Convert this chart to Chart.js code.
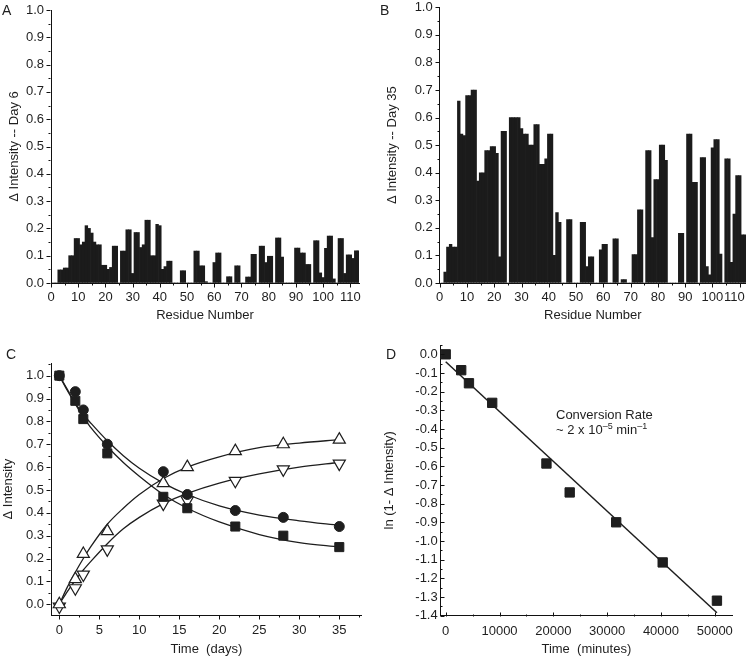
<!DOCTYPE html>
<html>
<head>
<meta charset="utf-8">
<script src="https://cdn.jsdelivr.net/npm/chart.js@4.4.1/dist/chart.umd.min.js"></script>
<style>
html, body { margin:0; padding:0; background:#fff; }
#fig { position:relative; width:746px; height:657px; overflow:hidden; background:#fff; }
#fig canvas { position:absolute; }
.t { position:absolute; font-family:"Liberation Sans", Arial, Helvetica, sans-serif; color:#1e1e1e; white-space:nowrap; }
.p { font-size:14px; line-height:14px; }
.n { font-size:13px; line-height:13px; }
.n sup { font-size:9px; vertical-align:0; position:relative; top:-5px; }
</style>
</head>
<body>
<div id="fig">
  <canvas id="chartA" width="373" height="323" style="left:0px;top:0px"></canvas>
  <canvas id="chartB" width="373" height="323" style="left:373px;top:0px"></canvas>
  <canvas id="chartC" width="373" height="327" style="left:0px;top:330px"></canvas>
  <canvas id="chartD" width="373" height="327" style="left:373px;top:330px"></canvas>
  <div class="t p" style="left:2px;top:3px">A</div>
  <div class="t p" style="left:380px;top:3px">B</div>
  <div class="t p" style="left:6px;top:347px">C</div>
  <div class="t p" style="left:386px;top:347px">D</div>
  <div class="t n" style="left:556px;top:408px">Conversion Rate</div>
  <div class="t n" style="left:556px;top:423px">~ 2 x 10<sup>–5</sup> min<sup>–1</sup></div>
</div>
<script>
// ---------------- data ----------------
const residueNumbers = Array.from({length: 113}, (_, i) => i + 1);

const deltaDay6 = [
  0, 0, 0.048, 0.048, 0.055, 0.055, 0.10, 0.10, 0.163, 0.163,
  0.14, 0.15, 0.21, 0.20, 0.183, 0.15, 0.14, 0.14, 0.065, 0.065,
  0.05, 0.057, 0.135, 0.135, 0, 0.117, 0.117, 0.195, 0.195, 0.035,
  0.185, 0.185, 0.13, 0.14, 0.23, 0.23, 0.10, 0.10, 0.215, 0.21,
  0.05, 0.06, 0.08, 0.08, 0, 0, 0, 0.045, 0.045, 0,
  0, 0, 0.117, 0.117, 0.063, 0.063, 0.005, 0, 0, 0.075,
  0.11, 0.11, 0, 0, 0.023, 0.023, 0, 0.063, 0.063, 0,
  0, 0.022, 0.022, 0.105, 0.105, 0, 0.135, 0.135, 0.075, 0.098,
  0.098, 0, 0.165, 0.165, 0.095, 0, 0, 0, 0, 0.128,
  0.128, 0.11, 0.11, 0.068, 0.068, 0, 0.155, 0.155, 0.037, 0.02,
  0.127, 0.172, 0.172, 0.015, 0, 0.163, 0.163, 0.035, 0.103, 0.103,
  0.09, 0.118, 0.118
];

const deltaDay35 = [
  0, 0.04, 0.13, 0.14, 0.13, 0.13, 0.66, 0.54, 0.535, 0.68,
  0.68, 0.70, 0.70, 0.37, 0.40, 0.40, 0.48, 0.48, 0.495, 0.495,
  0.47, 0.095, 0.55, 0.55, 0, 0.60, 0.60, 0.60, 0.60, 0.56,
  0.54, 0.54, 0.50, 0.50, 0.575, 0.575, 0.43, 0.43, 0.45, 0.54,
  0.54, 0.10, 0.255, 0.22, 0, 0, 0.23, 0.23, 0, 0,
  0, 0.22, 0.22, 0.06, 0.095, 0.095, 0, 0, 0.12, 0.14,
  0.14, 0, 0, 0.16, 0.16, 0, 0.012, 0.012, 0, 0,
  0.103, 0.103, 0.265, 0.265, 0, 0.48, 0.48, 0.165, 0.375, 0.375,
  0.50, 0.50, 0.445, 0, 0, 0, 0, 0.18, 0.18, 0,
  0.54, 0.54, 0.365, 0.365, 0, 0.455, 0.455, 0.06, 0.03, 0.49,
  0.52, 0.52, 0.105, 0, 0.45, 0.45, 0.075, 0.25, 0.39, 0.39,
  0.175, 0.175, 0
];

const residueTicks = [0, 10, 20, 30, 40, 50, 60, 70, 80, 90, 100, 110];
const intensityTicks = [0, 0.1, 0.2, 0.3, 0.4, 0.5, 0.6, 0.7, 0.8, 0.9, 1.0];

// panel C
const timeDays = [0, 2, 3, 6, 13, 16, 22, 28, 35];
const circleSeries = [1.0, 0.93, 0.85, 0.70, 0.58, 0.48, 0.41, 0.38, 0.34];
const squareSeries = [1.0, 0.89, 0.81, 0.66, 0.47, 0.42, 0.34, 0.30, 0.25];
const upTriangleSeries = [0.0, 0.11, 0.22, 0.32, 0.53, 0.60, 0.67, 0.70, 0.72];
const downTriangleSeries = [-0.01, 0.07, 0.13, 0.24, 0.44, 0.455, 0.54, 0.59, 0.615];
const fitDays = [0, 1, 2, 3, 4, 6, 8, 10, 13, 16, 20, 25, 30, 35];
const circleFit = [1.0, 0.94, 0.88, 0.83, 0.79, 0.715, 0.65, 0.595, 0.53, 0.48, 0.43, 0.39, 0.365, 0.345];
const squareFit = [1.0, 0.935, 0.875, 0.82, 0.77, 0.69, 0.62, 0.56, 0.48, 0.42, 0.36, 0.305, 0.27, 0.25];
const upFit = [0.0, 0.075, 0.14, 0.20, 0.255, 0.35, 0.42, 0.48, 0.55, 0.60, 0.645, 0.685, 0.705, 0.72];
const downFit = [0.0, 0.055, 0.105, 0.15, 0.19, 0.265, 0.33, 0.38, 0.44, 0.485, 0.53, 0.57, 0.60, 0.62];
const dayTicks = [0, 5, 10, 15, 20, 25, 30, 35];

// panel D
const timeMinutes = [0, 2880, 4320, 8640, 18720, 23040, 31680, 40320, 50400];
const lnSeries = [0.0, -0.085, -0.155, -0.26, -0.585, -0.74, -0.90, -1.115, -1.32];
const lineMinutes = [0, 50400];
const lineFit = [-0.04, -1.385];
const minuteTicks = [0, 10000, 20000, 30000, 40000, 50000];
const lnTicks = [0, -0.1, -0.2, -0.3, -0.4, -0.5, -0.6, -0.7, -0.8, -0.9, -1.0, -1.1, -1.2, -1.3, -1.4];

// ---------------- helpers ----------------
const INK = '#1e1e1e';
const FONT = { family: '"Liberation Sans", Arial, Helvetica, sans-serif', size: 13 };
Chart.defaults.font.family = FONT.family;
Chart.defaults.font.size = 13;
Chart.defaults.color = INK;

function midTicks(major) {
  const out = [];
  const step = major[1] - major[0];
  out.push(major[0] - step / 2);
  for (let i = 0; i < major.length - 1; i++) out.push((major[i] + major[i + 1]) / 2);
  out.push(major[major.length - 1] + step / 2);
  return out;
}

const tickMarks = {
  id: 'tickMarks',
  afterDraw(chart, args, opts) {
    const ctx = chart.ctx;
    const area = chart.chartArea;
    ctx.save();
    ctx.strokeStyle = '#111';
    ctx.lineWidth = 1;
    ['x', 'y'].forEach(id => {
      const cfg = opts[id];
      if (!cfg) return;
      const s = chart.scales[id];
      const dir = cfg.inward ? -1 : 1;
      [[cfg.major, cfg.len], [midTicks(cfg.major), cfg.minorLen]].forEach(([vals, len]) => {
        vals.forEach(v => {
          if (v < Math.min(s.min, s.max) - 1e-9 || v > Math.max(s.min, s.max) + 1e-9) return;
          const p = Math.round(s.getPixelForValue(v)) + 0.5;
          ctx.beginPath();
          if (id === 'x') {
            const y0 = Math.round(area.bottom) + 0.5;
            ctx.moveTo(p, y0);
            ctx.lineTo(p, y0 + dir * len);
          } else {
            const x0 = Math.round(area.left) - 0.5;
            ctx.moveTo(x0, p);
            ctx.lineTo(x0 - dir * len, p);
          }
          ctx.stroke();
        });
      });
    });
    ctx.restore();
  }
};

function axis(o) {
  return {
    type: 'linear', position: o.pos, min: o.min, max: o.max, offset: false,
    afterBuildTicks: s => { s.ticks = o.ticks.map(v => ({ value: v })); },
    ticks: { font: FONT, color: INK, padding: o.pad, autoSkip: false, maxRotation: 0, minRotation: 0, callback: o.fmt },
    grid: { display: true, drawOnChartArea: false, drawTicks: false, offset: false },
    border: { display: true, color: '#111', width: 1 },
    title: { display: true, text: o.title, font: FONT, color: INK, padding: o.titlePad },
    afterFit: s => {
      if (o.pos === 'bottom') { s.height = o.size; s.paddingLeft = 0; s.paddingRight = 0; }
      else { s.width = o.size; s.paddingTop = 0; s.paddingBottom = 0; }
    }
  };
}

const fmt1 = v => Number(v).toFixed(1);
const fmt0 = v => String(v);
// last label of panel B sits at the page edge: pad it so it stays fully visible
const fmtEdge = v => (v === residueTicks[residueTicks.length - 1] ? String(v) + '\u00a0\u00a0\u00a0' : String(v));

function barPanel(id, values, yTitle, xMax, pad, yWidth, yTitlePad, xFmt) {
  new Chart(document.getElementById(id), {
    type: 'bar',
    data: {
      datasets: [{
        data: residueNumbers.map((r, i) => ({ x: r, y: values[i] })),
        backgroundColor: '#1b1b1b', borderWidth: 0,
        barPercentage: 1, categoryPercentage: 1
      }]
    },
    options: {
      responsive: false, animation: false, events: [],
      layout: { padding: pad },
      plugins: {
        legend: { display: false }, tooltip: { enabled: false },
        tickMarks: {
          x: { major: residueTicks, len: 4, minorLen: 2 },
          y: { major: intensityTicks, len: 4, minorLen: 2 }
        }
      },
      scales: {
        x: axis({ pos: 'bottom', min: 0, max: xMax, ticks: residueTicks, fmt: xFmt, pad: 7, title: 'Residue Number', titlePad: { top: 0, bottom: 0 }, size: 40 }),
        y: axis({ pos: 'left', min: 0, max: 1.0, ticks: intensityTicks, fmt: fmt1, pad: 7, title: yTitle, titlePad: { top: yTitlePad, bottom: 0 }, size: yWidth })
      }
    },
    plugins: [tickMarks]
  });
}

barPanel('chartA', deltaDay6, 'Δ Intensity -- Day 6', 113.2, { top: 10, right: 14, bottom: 0, left: 0 }, 51, 7, fmt0);
barPanel('chartB', deltaDay35, 'Δ Intensity -- Day 35', 112.3, { top: 7.3, right: 0, bottom: 0, left: 0 }, 66.7, 12, fmtEdge);

// panel C
function pts(xs, ys) { return xs.map((x, i) => ({ x: x, y: ys[i] })); }
const curve = (xs, ys) => ({ data: pts(xs, ys), showLine: true, pointRadius: 0, borderColor: INK, borderWidth: 1.3, cubicInterpolationMode: 'monotone', fill: false, order: 5 });

new Chart(document.getElementById('chartC'), {
  type: 'scatter',
  data: {
    datasets: [
      { data: pts(timeDays, circleSeries), pointStyle: 'circle', pointRadius: 5, backgroundColor: INK, borderColor: INK, borderWidth: 1, clip: false, order: 1 },
      { data: pts(timeDays, squareSeries), pointStyle: 'rect', pointRadius: 6.4, backgroundColor: INK, borderColor: INK, borderWidth: 1, clip: false, order: 1 },
      { data: pts(timeDays, upTriangleSeries), pointStyle: 'triangle', pointRadius: 7, backgroundColor: '#fff', borderColor: INK, borderWidth: 1.2, clip: false, order: 1 },
      { data: pts(timeDays, downTriangleSeries), pointStyle: 'triangle', rotation: 180, pointRadius: 7, backgroundColor: '#fff', borderColor: INK, borderWidth: 1.2, clip: false, order: 1 },
      curve(fitDays, circleFit),
      curve(fitDays, squareFit),
      curve(fitDays, upFit),
      curve(fitDays, downFit)
    ]
  },
  options: {
    responsive: false, animation: false, events: [],
    layout: { padding: { top: 33.3, right: 11.3, bottom: 0, left: 0 } },
    plugins: {
      legend: { display: false }, tooltip: { enabled: false },
      tickMarks: {
        x: { major: dayTicks, len: 4, minorLen: 2 },
        y: { major: intensityTicks, len: 4, minorLen: 2 }
      }
    },
    scales: {
      x: axis({ pos: 'bottom', min: -1.04, max: 37.8, ticks: dayTicks, fmt: fmt0, pad: 8, title: 'Time  (days)', titlePad: { top: 0, bottom: 0 }, size: 42 }),
      y: axis({ pos: 'left', min: -0.047, max: 1.054, ticks: intensityTicks, fmt: fmt1, pad: 7, title: 'Δ Intensity', titlePad: { top: 1, bottom: 0 }, size: 51 })
    }
  },
  plugins: [tickMarks]
});

// panel D
new Chart(document.getElementById('chartD'), {
  type: 'scatter',
  data: {
    datasets: [
      { data: pts(timeMinutes, lnSeries), pointStyle: 'rect', pointRadius: 6.6, backgroundColor: INK, borderColor: INK, borderWidth: 1, clip: false, order: 1 },
      { data: pts(lineMinutes, lineFit), showLine: true, pointRadius: 0, borderColor: INK, borderWidth: 1.5, fill: false, order: 5 }
    ]
  },
  options: {
    responsive: false, animation: false, events: [],
    layout: { padding: { top: 15, right: 14, bottom: 0, left: 0 } },
    plugins: {
      legend: { display: false }, tooltip: { enabled: false },
      tickMarks: {
        x: { major: minuteTicks, len: 4, minorLen: 2, inward: true },
        y: { major: lnTicks, len: 4, minorLen: 2, inward: true }
      }
    },
    scales: {
      x: axis({ pos: 'bottom', min: -930, max: 53200, ticks: minuteTicks, fmt: fmt0, pad: 8, title: 'Time  (minutes)', titlePad: { top: 0, bottom: 0 }, size: 41.3 }),
      y: axis({ pos: 'left', min: -1.4005, max: 0.05, ticks: lnTicks, fmt: fmt1, pad: 3, title: 'ln (1- Δ Intensity)', titlePad: { top: 9, bottom: 0 }, size: 67.7 })
    }
  },
  plugins: [tickMarks]
});
</script>
</body>
</html>
